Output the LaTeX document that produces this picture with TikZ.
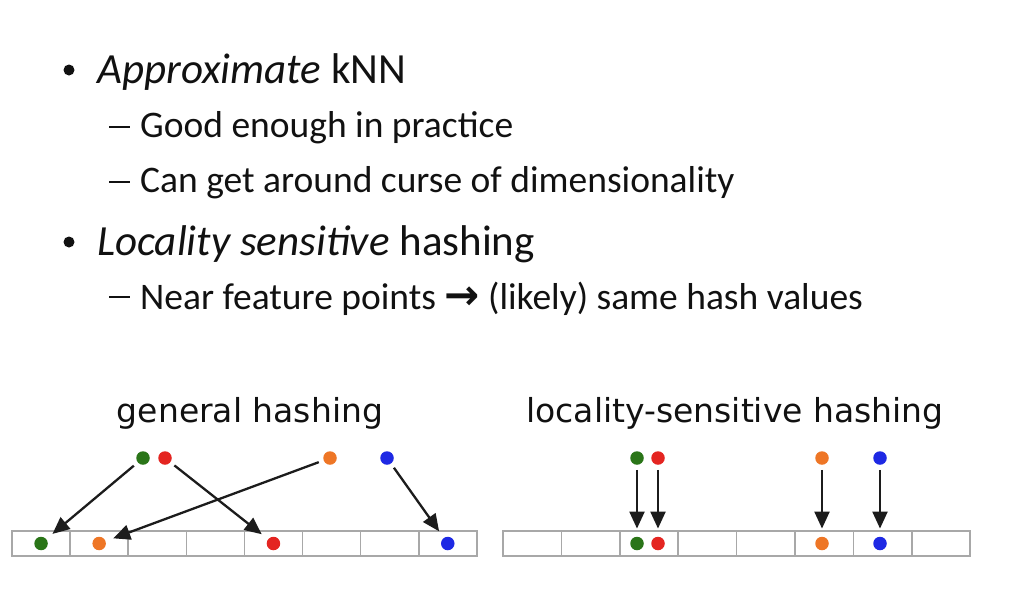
\documentclass[tikz,border=0pt]{standalone}
\usepackage{fontspec}
\setmainfont{Carlito}
\newfontfamily\dejavu{DejaVu Sans}
\newfontfamily\dejavub{DejaVu Sans Bold}
\usetikzlibrary{arrows.meta}
\definecolor{dgreen}{HTML}{2A7518}
\definecolor{dred}{HTML}{E42521}
\definecolor{dorange}{HTML}{EE7626}
\definecolor{dblue}{HTML}{1E29E4}
\definecolor{arrowc}{HTML}{1C1C1C}
\definecolor{cellc}{HTML}{A8A8A8}
\definecolor{txtc}{HTML}{111111}
\tikzset{
  txt/.style={inner sep=0pt, anchor=base west, text=txtc},
  lvlone/.style={txt, font=\fontsize{43}{50}\selectfont},
  lvltwo/.style={txt, font=\fontsize{37.5}{44}\selectfont},
  bul/.style={circle, fill=txtc, inner sep=0pt, minimum size=11pt},
  dsh/.style={fill=txtc, inner sep=0pt, minimum width=21pt, minimum height=2.4pt},
  captxt/.style={inner sep=0pt, anchor=base, text=txtc, font=\dejavu\fontsize{33}{38}\selectfont},
  cell/.style={draw=cellc, line width=1.5pt, minimum width=58.2pt, minimum height=25pt, inner sep=0pt},
  dot/.style={circle, inner sep=0pt, minimum size=13.5pt},
  arr/.style={draw=arrowc, line width=2.3pt, -{Triangle[length=17pt,width=15pt]}, shorten <=5pt, shorten >=8pt},
}
\begin{document}
\begin{tikzpicture}[x=1pt,y=-1pt]
\useasboundingbox (0,0) rectangle (1012,603);
% bullet text
\node[bul] (b1) at (69,70) {};
\node[lvlone] (t1) at (97,83) {\textit{Approximate} kNN};
\node[dsh] (d2) at (119,127) {};
\node[lvltwo] (t2) at (140,137) {Good enough in practice};
\node[dsh] (d3) at (119,182) {};
\node[lvltwo] (t3) at (140,192) {Can get around curse of dimensionality};
\node[bul] (b4) at (69,242) {};
\node[lvlone] (t4) at (97,255) {\textit{Locality sensitive} hashing};
\node[dsh] (d5) at (119,297) {};
\node[lvltwo] (t5) at (140,309) {Near feature points {\dejavub\fontsize{42}{44}\selectfont→} (likely) same hash values};
% captions
\node[captxt] (c1) at (250,422) {general hashing};
\node[captxt] (c2) at (735,422) {locality-sensitive hashing};
% bars
\foreach \i in {0,...,7} {
  \node[cell] (L\i) at ({12+58.1*\i+29.05},543.5) {};
}
\foreach \i in {0,...,7} {
  \node[cell] (R\i) at ({503+58.4*\i+29.2},543.5) {};
}
% left dots
\node[dot, fill=dgreen]  (lg) at (143,458) {};
\node[dot, fill=dred]    (lr) at (165,458) {};
\node[dot, fill=dorange] (lo) at (330,458) {};
\node[dot, fill=dblue]   (lb) at (387,458) {};
\node[dot, fill=dgreen]  (lgc) at (L0.center) {};
\node[dot, fill=dorange] (loc) at (L1.center) {};
\node[dot, fill=dred]    (lrc) at (L4.center) {};
\node[dot, fill=dblue]   (lbc) at (L7.center) {};
\draw[arr] (lg) -- (lgc);
\draw[arr] (lo) -- (loc);
\draw[arr] (lr) -- (lrc);
\draw[arr] (lb) -- (lbc);
% right dots
\node[dot, fill=dgreen]  (rg) at (637,458) {};
\node[dot, fill=dred]    (rr) at (658,458) {};
\node[dot, fill=dorange] (ro) at (822,458) {};
\node[dot, fill=dblue]   (rb) at (880,458) {};
\node[dot, fill=dgreen]  (rgc) at (637,543.5) {};
\node[dot, fill=dred]    (rrc) at (658,543.5) {};
\node[dot, fill=dorange] (roc) at (822,543.5) {};
\node[dot, fill=dblue]   (rbc) at (880,543.5) {};
\draw[arr] (rg) -- (rgc);
\draw[arr] (rr) -- (rrc);
\draw[arr] (ro) -- (roc);
\draw[arr] (rb) -- (rbc);
\end{tikzpicture}
\end{document}
